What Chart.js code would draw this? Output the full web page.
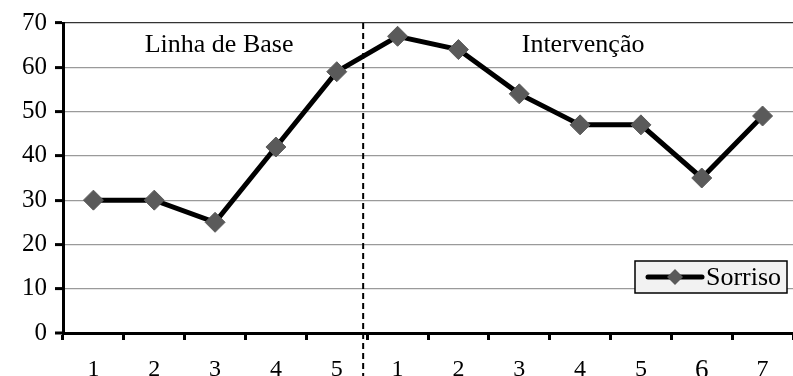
<!DOCTYPE html>
<html>
<head>
<meta charset="utf-8">
<script src="https://cdn.jsdelivr.net/npm/chart.js@4"></script>
<style>
html, body { margin: 0; padding: 0; background: #fff; overflow: hidden; }
#wrap { width: 804px; height: 376px; }
</style>
</head>
<body>
<div id="wrap"><canvas id="smileChart" width="804" height="376"></canvas></div>
<script>
// sessions: 5 baseline, 7 intervention
const sessionLabels = ['1', '2', '3', '4', '5', '1', '2', '3', '4', '5', '6', '7'];
const sorriso = [30, 30, 25, 42, 59, 67, 64, 54, 47, 47, 35, 49];
const yTicks = [0, 10, 20, 30, 40, 50, 60, 70];
const phaseNames = ['Linha de Base', 'Intervenção'];
const seriesName = 'Sorriso';

const serif = '"Liberation Serif", "DejaVu Serif", serif';

const phasePlugin = {
  id: 'phases',
  afterDatasetsDraw(chart) {
    const c = chart.ctx;
    const x = chart.scales.x;
    const area = chart.chartArea;
    const cut = (x.getPixelForValue(4) + x.getPixelForValue(5)) / 2 - 4;

    c.save();
    c.strokeStyle = '#000';
    c.lineWidth = 2;
    c.setLineDash([6, 4]);
    c.beginPath();
    c.moveTo(cut, area.top);
    c.lineTo(cut, chart.height);
    c.stroke();
    c.setLineDash([]);

    c.fillStyle = '#000';
    c.font = '26px ' + serif;
    c.textAlign = 'center';
    c.textBaseline = 'alphabetic';
    c.fillText(phaseNames[0], x.getPixelForValue(2) + 4, area.top + 29);
    c.fillText(phaseNames[1], x.getPixelForValue(8) + 3, area.top + 29);

    // legend box
    const bx = 635, by = 261, bw = 152, bh = 32;
    c.fillStyle = '#f2f2f2';
    c.fillRect(bx, by, bw, bh);
    c.strokeStyle = '#000';
    c.lineWidth = 1.5;
    c.strokeRect(bx, by, bw, bh);
    const ly = by + bh / 2;
    c.lineWidth = 5;
    c.lineCap = 'round';
    c.beginPath();
    c.moveTo(648, ly);
    c.lineTo(702, ly);
    c.stroke();
    c.fillStyle = '#5a5a5a';
    c.beginPath();
    c.moveTo(675, ly - 8);
    c.lineTo(683, ly);
    c.lineTo(675, ly + 8);
    c.lineTo(667, ly);
    c.closePath();
    c.fill();
    c.fillStyle = '#000';
    c.font = '26px ' + serif;
    c.textAlign = 'left';
    c.fillText(seriesName, 706, by + 24);
    c.restore();
  }
};

new Chart(document.getElementById('smileChart'), {
  type: 'line',
  data: {
    labels: sessionLabels,
    datasets: [{
      label: seriesName,
      data: sorriso,
      borderColor: '#000',
      borderWidth: 5,
      tension: 0,
      pointStyle: 'rectRot',
      pointRadius: 10,
      pointBackgroundColor: '#5a5a5a',
      pointBorderColor: '#5a5a5a',
      pointBorderWidth: 1
    }]
  },
  options: {
    responsive: false,
    animation: false,
    layout: { padding: { top: 23, right: 0, left: 0, bottom: 0 } },
    plugins: { legend: { display: false }, tooltip: { enabled: false } },
    scales: {
      x: {
        offset: true,
        grid: {
          offset: true,
          drawOnChartArea: false,
          tickLength: 7,
          tickColor: '#000',
          tickWidth: 3
        },
        border: { color: '#000', width: 3 },
        ticks: {
          color: '#000',
          padding: 15,
          maxRotation: 0,
          font: (ctx) => ({ family: serif, size: ctx.index === 10 ? 27 : 24 })
        },
        afterFit(scale) { scale.height = 43; }
      },
      y: {
        min: 0,
        max: 70,
        afterBuildTicks(scale) { scale.ticks = yTicks.map(v => ({ value: v })); },
        grid: {
          color: (ctx) => ctx.tick && ctx.tick.value === 70 ? '#333' : '#9a9a9a',
          lineWidth: (ctx) => ctx.tick && ctx.tick.value === 0 ? 0 : 1.2,
          tickLength: 8,
          tickColor: '#000',
          tickWidth: 3
        },
        border: { color: '#000', width: 3 },
        ticks: {
          color: '#000',
          padding: 8,
          font: { family: serif, size: 25 }
        },
        afterFit(scale) { scale.width = 63; }
      }
    }
  },
  plugins: [phasePlugin]
});
</script>
</body>
</html>
